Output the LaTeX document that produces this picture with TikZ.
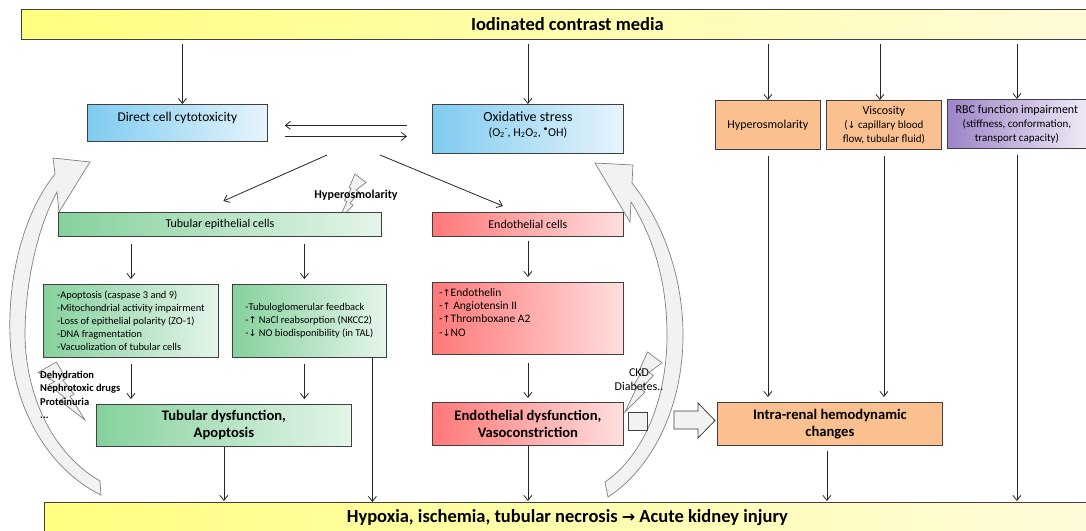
\documentclass[tikz,border=0pt]{standalone}
\usepackage{fontspec}
\setmainfont{Carlito}
\newfontfamily\symf{DejaVu Sans}
\usetikzlibrary{arrows.meta}
\definecolor{bord}{HTML}{404040}
\definecolor{lnc}{HTML}{262626}
\definecolor{blueA}{HTML}{7FCBF0}
\definecolor{blueB}{HTML}{E6F4FC}
\definecolor{greenA}{HTML}{86D19D}
\definecolor{greenB}{HTML}{E4F5E9}
\definecolor{redA}{HTML}{FF7878}
\definecolor{redB}{HTML}{FFDEDE}
\definecolor{orng}{HTML}{FAC08F}
\definecolor{purA}{HTML}{9D83C8}
\definecolor{purB}{HTML}{EFEAF6}
\definecolor{yelA}{HTML}{FFFF80}
\definecolor{yelB}{HTML}{FFFBDA}
\definecolor{arcfill}{HTML}{F2F2F2}
\definecolor{arcline}{HTML}{808080}
\newcommand{\uparr}{{\symf\fontsize{9.5}{9.5}\selectfont ↑}}
\newcommand{\dnarr}{{\symf\fontsize{9.5}{9.5}\selectfont ↓}}
\begin{document}
\begin{tikzpicture}[x=1pt,y=-1pt,
  box/.style={draw=bord, line width=0.8pt, anchor=north west, inner sep=0pt, align=center},
  blueb/.style={box, left color=blueA, right color=blueB},
  greenb/.style={box, left color=greenA, right color=greenB},
  redb/.style={box, left color=redA, right color=redB},
  orb/.style={box, fill=orng},
  purb/.style={box, left color=purA, right color=purB},
  yelbar/.style={box, left color=yelA, right color=yelB, font=\fontsize{18.5}{22}\selectfont\bfseries},
  txt/.style={font=\fontsize{12}{14}\selectfont},
  lst/.style={font=\fontsize{10.4}{13}\selectfont, align=left},
  big/.style={font=\fontsize{14.6}{17}\selectfont\bfseries},
  boltlbl/.style={font=\fontsize{10.5}{13.3}\selectfont\bfseries, align=left, inner sep=0pt},
  arr/.style={draw=lnc, line width=0.8pt, -{Straight Barb[length=5pt,width=8pt]}},
  ln/.style={draw=lnc, line width=0.8pt},
  arcsh/.style={fill=arcfill, draw=arcline, line width=0.7pt, line join=miter},
  blk/.style={fill=arcfill, draw=bord, line width=0.8pt, line join=miter},
  boltsh/.style={fill=arcfill, draw=arcline, line width=0.7pt, line join=miter}
]
\useasboundingbox (0,0) rectangle (1086,530);
\fill[white] (0,0) rectangle (1086,530);

% curved feedback arrows
\path[arcsh] (90,162) -- (53,158) -- (55,174) .. controls (22,215) and (8,280) .. (10,335)
  .. controls (12,410) and (50,470) .. (101,495) -- (100,481)
  .. controls (55,455) and (26,400) .. (25,335) .. controls (25,285) and (37,228) .. (57,192)
  -- (59,212) -- cycle;
\path[arcsh] (595,163) -- (633,165) -- (632,183) .. controls (665,225) and (683,280) .. (683,335)
  .. controls (683,410) and (650,470) .. (608,497) -- (605,482)
  .. controls (640,458) and (667,405) .. (667,335) .. controls (667,285) and (655,240) .. (631,202)
  -- (630,222) -- cycle;

% lightning bolts
\begin{scope}[shift={(38,362)}, xscale=47, yscale=58]
\path[boltsh] (0.392,0) -- (0.598,0.286) -- (0.530,0.313) -- (0.767,0.556) -- (0.684,0.591) -- (1,1)
  -- (0.464,0.666) -- (0.566,0.613) -- (0.232,0.391) -- (0.352,0.339) -- (0,0.180) -- cycle;
\end{scope}
\begin{scope}[shift={(366,174)}, xscale=-28, yscale=47]
\path[boltsh] (0.392,0) -- (0.598,0.286) -- (0.530,0.313) -- (0.767,0.556) -- (0.684,0.591) -- (1,1)
  -- (0.464,0.666) -- (0.566,0.613) -- (0.232,0.391) -- (0.352,0.339) -- (0,0.180) -- cycle;
\end{scope}
\begin{scope}[shift={(662,352)}, xscale=-37, yscale=60]
\path[boltsh] (0.392,0) -- (0.598,0.286) -- (0.530,0.313) -- (0.767,0.556) -- (0.684,0.591) -- (1,1)
  -- (0.464,0.666) -- (0.566,0.613) -- (0.232,0.391) -- (0.352,0.339) -- (0,0.180) -- cycle;
\end{scope}

% bars
\node[yelbar, minimum width=1092pt, minimum height=30pt] (top) at (21,9) {Iodinated contrast media};
\node[yelbar, minimum width=1046pt, minimum height=31pt] (bot) at (44,502)
  {Hypoxia, ischemia, tubular necrosis {\symf\bfseries\fontsize{16}{16}\selectfont →} Acute kidney injury};

% first row
\node[blueb, minimum width=180pt, minimum height=37pt] (dcc) at (87,104) {};
\node[font=\fontsize{13.4}{16}\selectfont, anchor=base, inner sep=0pt] (dcct) at ([yshift=-17.5pt]dcc.north) {Direct cell cytotoxicity};
\node[blueb, minimum width=191pt, minimum height=49pt] (oxs) at (432,104) {};
\node[font=\fontsize{14}{16}\selectfont, anchor=base, inner sep=0pt] (oxst) at ([yshift=-17.5pt]oxs.north) {Oxidative stress};
\node[font=\fontsize{12}{14}\selectfont, anchor=base, inner sep=0pt] (oxst2) at ([yshift=-32pt]oxs.north)
  {(O\textsubscript{2}\textsuperscript{-}, H\textsubscript{2}O\textsubscript{2}, \textsuperscript{•}OH)};
\node[orb, txt, minimum width=105pt, minimum height=49pt] (hyp) at (715,100) {Hyperosmolarity};
\node[orb, txt, minimum width=115pt, minimum height=49pt] (vis) at (826,100)
  {Viscosity\\{\fontsize{11}{14}\selectfont(\dnarr\ capillary blood}\\{\fontsize{11}{14}\selectfont flow, tubular fluid)}};
\node[purb, txt, minimum width=139pt, minimum height=49pt] (rbc) at (947,99)
  {RBC function impairment\\{\fontsize{11}{14}\selectfont(stiffness, conformation,}\\{\fontsize{11}{14}\selectfont transport capacity)}};

% cell rows
\node[greenb, txt, minimum width=323pt, minimum height=24pt] (tec) at (58,212) {Tubular epithelial cells};
\node[redb, txt, minimum width=191pt, minimum height=24pt] (enc) at (432,212) {Endothelial cells};

\node[greenb, lst, minimum width=175pt, minimum height=73pt] (l1) at (43,284)
  {-Apoptosis (caspase 3 and 9)\\-Mitochondrial activity impairment\\-Loss of epithelial polarity (ZO-1)\\-DNA fragmentation\\-Vacuolization of tubular cells};
\node[greenb, lst, minimum width=154pt, minimum height=73pt] (l2) at (232,284)
  {-Tubuloglomerular feedback\\-\uparr\ NaCl reabsorption (NKCC2)\\-\dnarr\ NO biodisponibility (in TAL)};
\node[redb, minimum width=191pt, minimum height=72pt] (el) at (432,282) {};
\node[font=\fontsize{11.5}{13.3}\selectfont, align=left, anchor=north west, inner sep=0pt] (elt) at ([shift={(7,6)}]el.north west)
  {-\uparr Endothelin\\-\uparr\ Angiotensin II\\-\uparr Thromboxane A2\\-\dnarr NO};

\node[greenb, big, minimum width=255pt, minimum height=42pt] (tdys) at (96,404) {Tubular dysfunction,\\Apoptosis};
\node[redb, big, minimum width=191pt, minimum height=43pt] (edys) at (432,402) {Endothelial dysfunction,\\Vasoconstriction};
\node[orb, big, minimum width=225pt, minimum height=43pt] (ird) at (717,402) {Intra-renal hemodynamic\\changes};

% small square and block arrow
\path[blk] (628,412) rectangle (647,430);
\path[blk] (674,411) -- (698,411) -- (698,403) -- (715,420.5) -- (698,438) -- (698,429) -- (674,429) -- cycle;

% bolt labels
\node[font=\fontsize{12}{14}\selectfont\bfseries, inner sep=0pt] (hyl) at (356,195) {Hyperosmolarity};
\node[boltlbl, anchor=north west] (dhl) at (40,371) {Dehydration\\Nephrotoxic drugs\\Proteinuria\\...};
\node[font=\fontsize{12}{14}\selectfont, align=center, inner sep=0pt] (ckl) at (639,380) {CKD\\Diabetes..};

% connectors from top bar
\coordinate (dccin) at ([xshift=5pt]dcc.north);
\coordinate (visin) at ([xshift=-4pt]vis.north);
\draw[arr, shorten <=4pt] (top.south -| dccin) -- (dccin);
\draw[arr, shorten <=4pt] (top.south -| oxs.north) -- (oxs.north);
\draw[arr, shorten <=4pt] (top.south -| hyp.north) -- (hyp.north);
\draw[arr, shorten <=4pt] (top.south -| visin) -- (visin);
\draw[arr, shorten <=4pt] (top.south -| rbc.north) -- (rbc.north);

% double arrows
\draw[arr] ([shift={(-25,-3.5)}]oxs.west) -- ([shift={(17,2.5)}]dcc.east);
\draw[arr] ([shift={(17,13.5)}]dcc.east) -- ([shift={(-25,7.5)}]oxs.west);

% fan-out arrows
\coordinate (fan1) at (327,155);
\coordinate (fan2) at (380,155);
\draw[arr] (fan1) -- ([shift={(3.5,-11)}]tec.north);
\draw[arr] (fan2) -- ([shift={(-25,-6)}]enc.north);

% epithelial branch
\coordinate (l2u) at ([xshift=-5pt]l2.north);
\coordinate (l2d) at ([xshift=-5pt]l2.south);
\coordinate (l2r) at ([xshift=63pt]l2.south);
\draw[arr, shorten <=7pt, shorten >=5pt] (l1.north |- tec.south) -- (l1.north);
\draw[arr, shorten <=7pt, shorten >=5pt] (l2u |- tec.south) -- (l2u);
\draw[arr, shorten <=6pt, shorten >=5pt] (l1.south) -- (l1.south |- tdys.north);
\draw[arr, shorten <=6pt, shorten >=5pt] (l2d) -- (l2d |- tdys.north);
\draw[arr] (l2r) -- (l2r |- bot.north);
\draw[arr, shorten >=1pt] (tdys.south) -- (tdys.south |- bot.north);

% endothelial branch
\draw[arr, shorten <=4pt, shorten >=5pt] (enc.south) -- (el.north);
\draw[arr, shorten <=8pt, shorten >=4pt] (el.south) -- (edys.north);
\draw[arr, shorten >=1pt] (edys.south) -- (edys.south |- bot.north);

% haemodynamic branch
\coordinate (irdo) at ([xshift=-3pt]ird.south);
\draw[arr, shorten <=6pt, shorten >=5pt] (hyp.south) -- (hyp.south |- ird.north);
\draw[arr, shorten <=6pt, shorten >=5pt] (vis.south) -- (vis.south |- ird.north);
\draw[arr, shorten <=5pt, shorten >=1pt] (irdo) -- (irdo |- bot.north);
\draw[arr, shorten <=6pt, shorten >=1pt] (rbc.south) -- (rbc.south |- bot.north);
\end{tikzpicture}
\end{document}
